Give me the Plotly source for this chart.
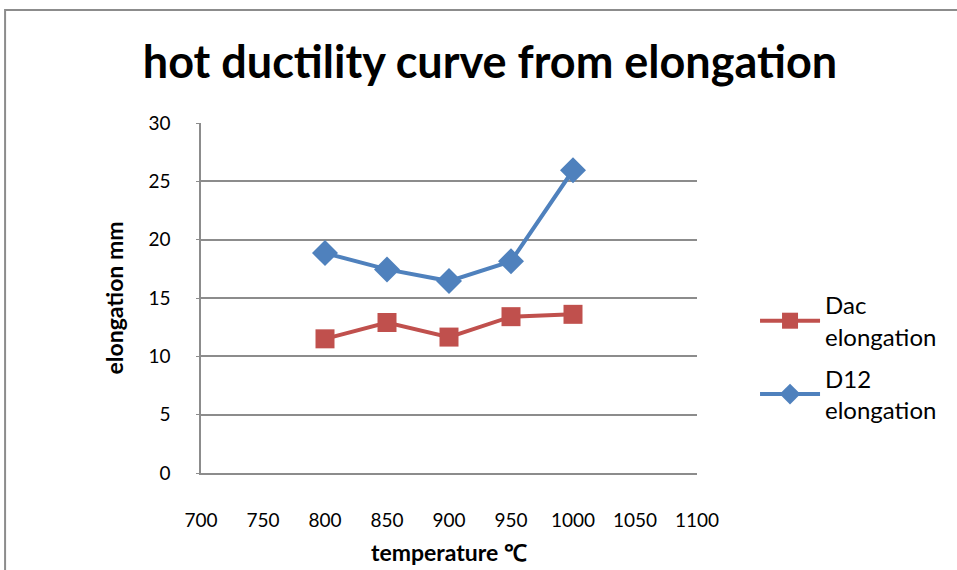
import plotly.graph_objects as go

# Test temperatures (°C) and measured elongation (mm)
temperature = [800, 850, 900, 950, 1000]
dac_elongation = [11.5, 12.9, 11.65, 13.4, 13.6]
d12_elongation = [18.85, 17.45, 16.45, 18.15, 25.95]

x_ticks = [700, 750, 800, 850, 900, 950, 1000, 1050, 1100]
y_ticks = [0, 5, 10, 15, 20, 25, 30]

FONT = "Lato"
GRID = "#8c8c8c"

fig = go.Figure()
fig.add_trace(go.Scatter(
    x=temperature, y=dac_elongation, name="Dac<br>elongation",
    legendgroup="dac", mode="lines+markers",
    line=dict(color="#C0504D", width=4),
    marker=dict(symbol="square", size=19, color="#C0504D"),
))
fig.add_trace(go.Scatter(
    x=temperature, y=d12_elongation, name="D12<br>elongation",
    legendgroup="d12", mode="lines+markers",
    line=dict(color="#4F81BD", width=4),
    marker=dict(symbol="diamond", size=20, color="#4F81BD"),
))

fig.update_layout(
    width=957, height=570,
    margin=dict(l=201, r=260, t=123, b=97),
    paper_bgcolor="white", plot_bgcolor="white",
    font=dict(family=FONT, color="black", size=19),
    title=dict(
        text="<b>hot ductility curve from elongation</b>",
        x=0.512, xanchor="center", y=0.89, yanchor="middle",
        font=dict(family=FONT, size=45, color="black"),
    ),
    showlegend=True,
    legend=dict(
        x=1.117, xanchor="left", y=0.33, yanchor="middle",
        font=dict(family=FONT, size=24, color="black"),
        itemwidth=60, tracegroupgap=8, bgcolor="rgba(0,0,0,0)",
    ),
    xaxis=dict(
        range=[700, 1100], tickvals=x_ticks, ticktext=[str(v) for v in x_ticks],
        showgrid=False, zeroline=False, automargin=False,
        showline=True, linecolor=GRID, linewidth=1.5,
        ticks="", ticklabelstandoff=29,
        tickfont=dict(family=FONT, size=19),
        title=dict(text="<b>temperature ℃</b>", font=dict(family=FONT, size=23), standoff=15),
    ),
    yaxis=dict(
        range=[0, 30], tickvals=y_ticks, automargin=False,
        showgrid=True, gridcolor=GRID, gridwidth=1.5,
        zeroline=False, showline=True, linecolor=GRID, linewidth=1.5,
        ticks="outside", ticklen=3, tickcolor=GRID,
        ticklabelstandoff=22,
        tickfont=dict(family=FONT, size=19),
        title=dict(text="<b>elongation mm</b>", font=dict(family=FONT, size=23), standoff=18),
    ),
    shapes=[
        # chart frame
        dict(type="rect", xref="paper", yref="paper",
             x0=-0.395, x1=1.6, y0=-0.4, y1=1.323,
             line=dict(color="#8c8c8c", width=2), fillcolor="rgba(0,0,0,0)", layer="below"),
    ],
)

fig.write_html("out.html")
